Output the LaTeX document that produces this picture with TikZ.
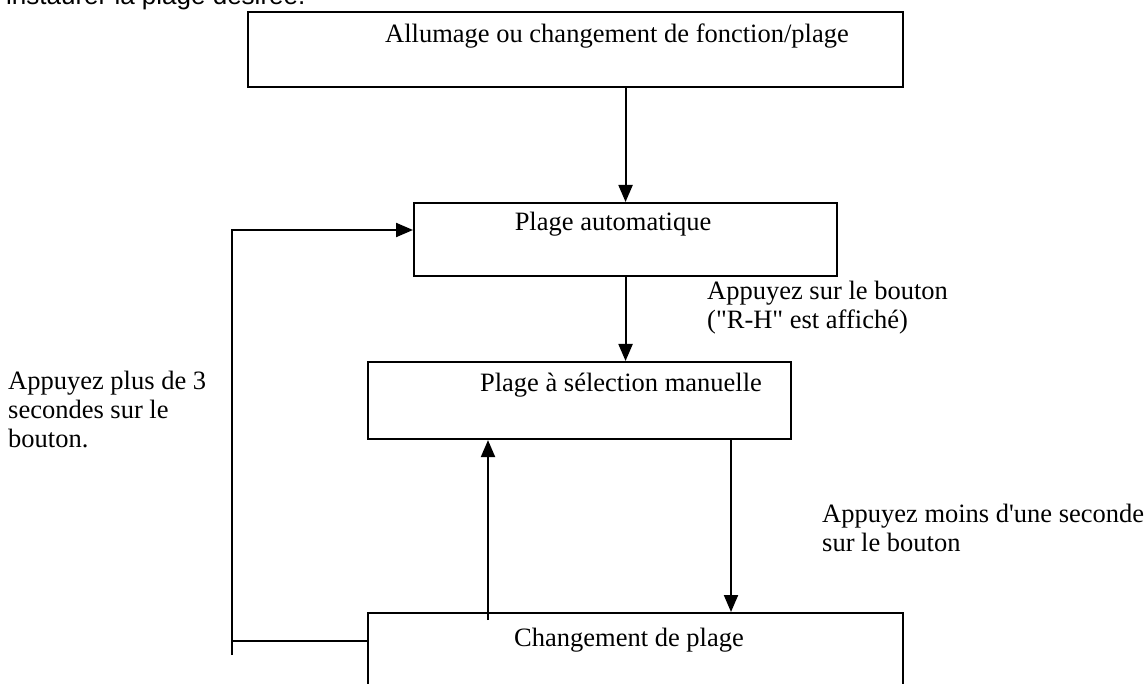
\documentclass[tikz,border=0pt]{standalone}
\usepackage{fontspec}
\setmainfont{Liberation Serif}
\newfontfamily\sansfont{Liberation Sans}
\usetikzlibrary{arrows.meta}
\begin{document}
\begin{tikzpicture}[x=1pt,y=-1pt,
  box/.style={draw, line width=2.1pt, inner sep=0pt, anchor=north west},
  lbl/.style={inner sep=0pt, font=\fontsize{26.5}{29}\selectfont},
  flow/.style={line width=2.1pt, -{Triangle[length=17pt,width=14pt]}},
  wire/.style={line width=2.1pt}]
\useasboundingbox (0,0) rectangle (1148,684);
\begin{scope}
\clip (0,0) rectangle (1148,684);
% end of the preceding sentence, cut by the page edge
\node[inner sep=0pt, anchor=base west, font=\sansfont\fontsize{26}{27}\selectfont] (intro) at (6,5) {instaurer la plage désirée.};

% state boxes
\node[box, minimum width=655pt, minimum height=75pt] (power) at (247,11) {};
\node[box, minimum width=423pt, minimum height=73pt] (auto) at (413,202) {};
\node[box, minimum width=423pt, minimum height=77pt] (manual) at (367,361) {};
\node[box, minimum width=535pt, minimum height=110pt] (change) at (367,612) {};

% box titles
\node[lbl] (powertxt) at (617,36) {Allumage ou changement de fonction/plage};
\node[lbl] (autotxt) at (613,224) {Plage automatique};
\node[lbl] (manualtxt) at (621,385) {Plage à sélection manuelle};
\node[lbl] (changetxt) at (629,640) {Changement de plage};

% transition notes
\node[lbl, anchor=north west, align=left] (noteRH) at (707,281) {Appuyez sur le bouton\\(\textquotedbl R-H\textquotedbl{} est affiché)};
\node[lbl, anchor=north west, align=left] (noteshort) at (822,504) {Appuyez moins d\textquotesingle une seconde\\sur le bouton};
\node[lbl, anchor=north west, align=left] (notelong) at (8,371) {Appuyez plus de 3\\secondes sur le\\bouton.};

% transitions
\coordinate (upx) at (488,0);
\coordinate (dnx) at (731,0);
\coordinate (fbtail) at (232,655);
\coordinate (fbjoin) at (232,641);
\coordinate (fbturn) at (232,230);
\draw[flow] (power.south -| auto.north) -- (auto.north);
\draw[flow] (auto.south -| auto.north) -- (manual.north -| auto.north);
\draw[flow] ([yshift=-8pt]change.north -| upx) -- (manual.south -| upx);
\draw[flow] (manual.south -| dnx) -- (change.north -| dnx);
\draw[wire] (change.west |- fbjoin) -- (fbjoin);
\draw[flow] (fbtail) -- (fbturn) -- (fbturn -| auto.west);
\end{scope}
\end{tikzpicture}
\end{document}
